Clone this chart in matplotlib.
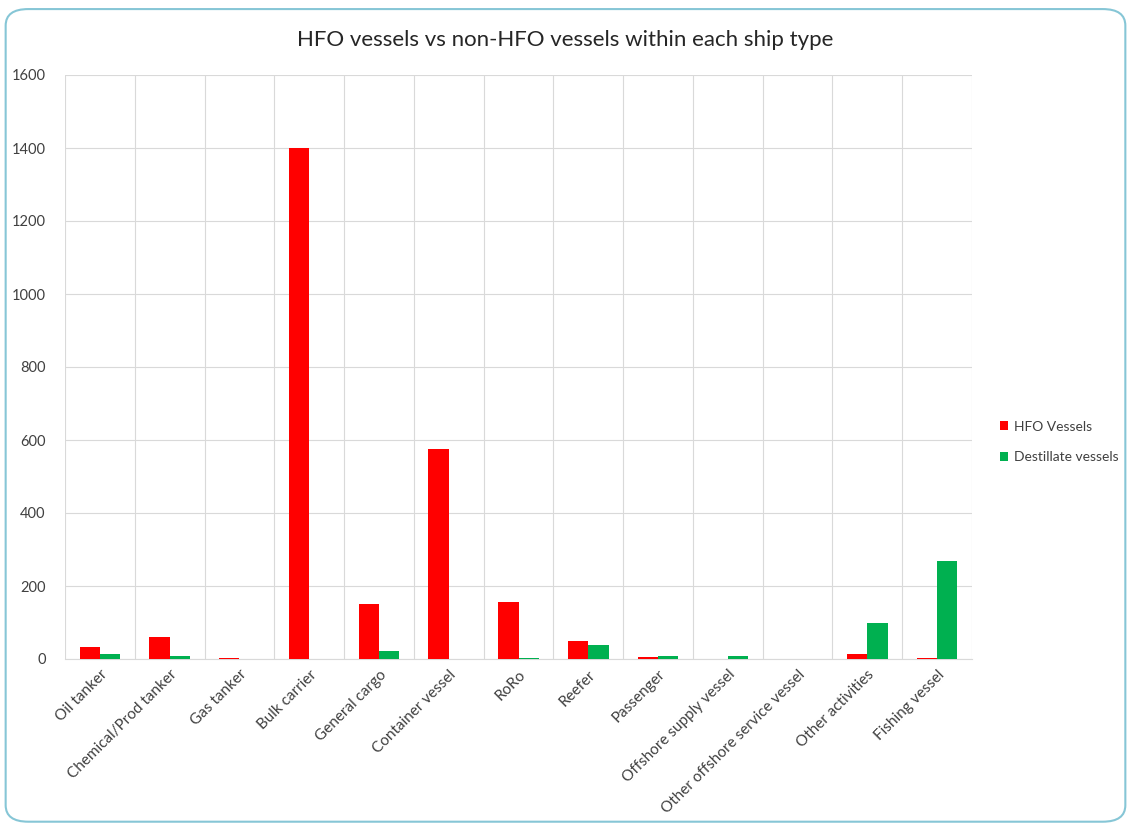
import matplotlib
matplotlib.use('Agg')
import matplotlib.pyplot as plt
from matplotlib.patches import FancyBboxPatch
import numpy as np

categories = ['Oil tanker', 'Chemical/Prod tanker', 'Gas tanker', 'Bulk carrier',
              'General cargo', 'Container vessel', 'RoRo', 'Reefer', 'Passenger',
              'Offshore supply vessel', 'Other offshore service vessel',
              'Other activities', 'Fishing vessel']
hfo_vessels = [33, 60, 4, 1400, 150, 575, 157, 50, 5, 0, 0, 14, 3]
destillate_vessels = [14, 8, 0, 0, 22, 0, 2, 38, 7, 7, 0, 99, 268]

plt.rcParams['font.family'] = ['Lato', 'DejaVu Sans']

fig = plt.figure(figsize=(11.31, 8.25), dpi=100)
ax = fig.add_axes([65 / 1131, 1 - 659 / 825, (972 - 65) / 1131, (659 - 75) / 825])

# rounded frame around the chart
frame = FancyBboxPatch((0.005, 0.004), 0.99, 0.985, transform=fig.transFigure,
                       boxstyle='round,pad=0,rounding_size=0.02',
                       facecolor='none', edgecolor='#86c6d6', linewidth=1.5)
fig.patches.append(frame)

x = np.arange(len(categories))
w = 0.29
ax.bar(x - w / 2, hfo_vessels, w, color='#ff0000', label='HFO Vessels', zorder=3)
ax.bar(x + w / 2, destillate_vessels, w, color='#00b050', label='Destillate vessels', zorder=3)

ax.set_xlim(-0.5, len(categories) - 0.5)
ax.set_ylim(0, 1600)
ax.set_yticks(np.arange(0, 1601, 200))
ax.tick_params(axis='y', length=0, labelsize=10.5, colors='#404040', pad=14)
ax.set_xticks(x)
ax.set_xticklabels(categories, rotation=45, ha='right', rotation_mode='anchor',
                   fontsize=11, color='#404040')
ax.tick_params(axis='x', length=0, pad=6)
ax.set_xticks(np.arange(-0.5, len(categories), 1), minor=True)
ax.tick_params(axis='x', which='minor', length=0)
ax.grid(True, axis='y', color='#d9d9d9', linewidth=0.8, zorder=0)
ax.grid(True, axis='x', which='minor', color='#d9d9d9', linewidth=0.8, zorder=0)
for s in ['top', 'right', 'left']:
    ax.spines[s].set_visible(False)
ax.spines['bottom'].set_color('#d9d9d9')

fig.text(0.5, 1 - 40 / 825, 'HFO vessels vs non-HFO vessels within each ship type',
         ha='center', va='center', fontsize=16, color='#262626')

fig.legend(loc='center left', bbox_to_anchor=(987 / 1131, 1 - 442 / 825), frameon=False,
           fontsize=10, handlelength=0.6, handleheight=0.6, labelspacing=1.35,
           handletextpad=0.45, labelcolor='#404040')

fig.savefig('out.png', dpi=100, facecolor='white')
